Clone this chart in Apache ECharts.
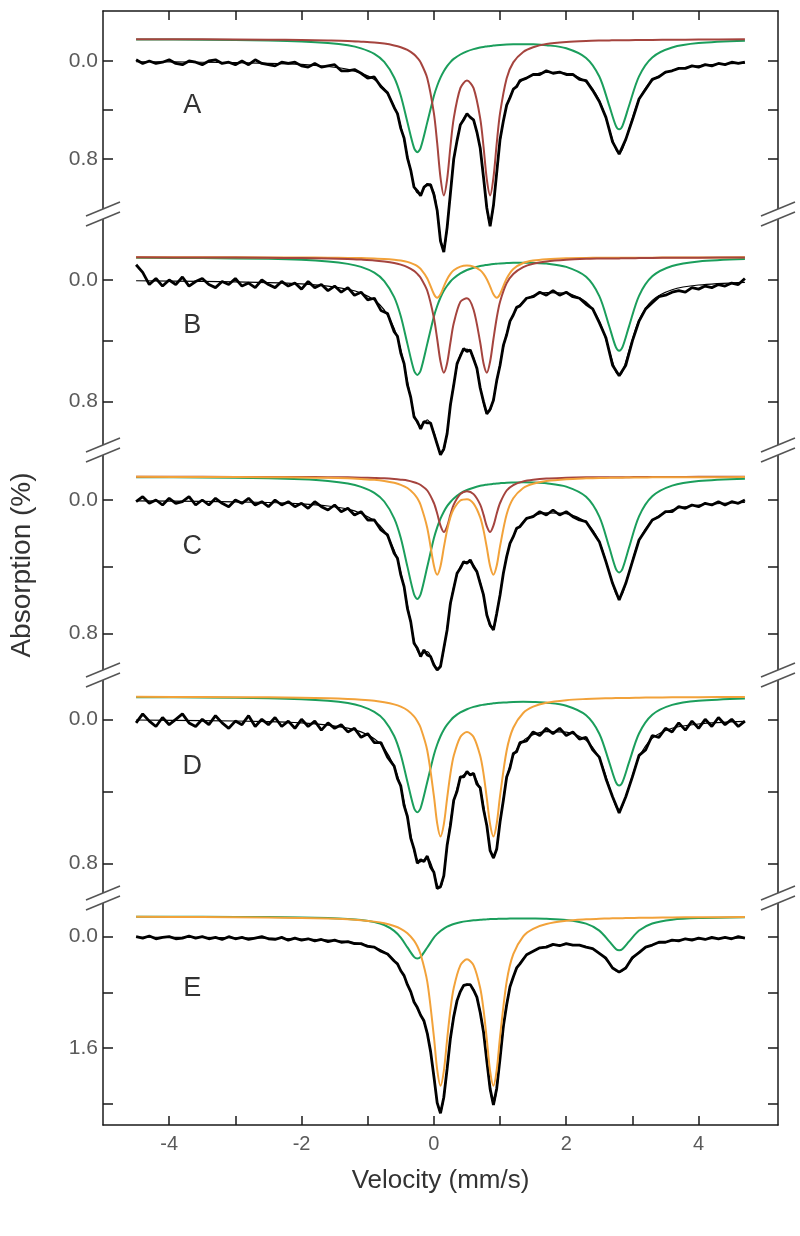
<!DOCTYPE html>
<html><head><meta charset="utf-8">
<script src="https://cdn.jsdelivr.net/npm/echarts@6/dist/echarts.min.js"></script>
<style>html,body{margin:0;padding:0;background:#fff}#chart{width:800px;height:1236px}</style>
</head><body><div id="chart"></div>
<script>
// ---------- DATA ----------
// velocity grid (mm/s) for fitted curves
var velocity = [-4.5,-3.5,-2.5,-2,-1.6,-1.3,-1.1,-0.9,-0.75,-0.6,-0.5,-0.4,-0.3,-0.25,-0.2,-0.1,0,0.05,0.1,0.15,0.2,0.25,0.3,0.4,0.5,0.6,0.7,0.75,0.8,0.85,0.9,0.95,1,1.1,1.2,1.35,1.5,1.7,2,2.3,2.5,2.65,2.75,2.8,2.85,2.95,3.1,3.3,3.6,4,4.7];
// velocity channels of the measured spectra
var dataVelocity = [-4.5,-4.4,-4.3,-4.2,-4.1,-4,-3.9,-3.8,-3.7,-3.6,-3.5,-3.4,-3.3,-3.2,-3.1,-3,-2.9,-2.8,-2.7,-2.6,-2.5,-2.4,-2.3,-2.2,-2.1,-2,-1.9,-1.8,-1.7,-1.6,-1.5,-1.4,-1.3,-1.2,-1.1,-1,-0.9,-0.8,-0.7,
 -0.6,-0.55,-0.5,-0.45,-0.4,-0.35,-0.3,-0.25,-0.2,-0.15,-0.1,-0.05,0,0.05,0.1,0.15,0.2,0.25,0.3,0.35,0.4,0.45,0.5,0.55,0.6,0.65,0.7,0.75,0.8,0.85,0.9,0.95,1,1.05,1.1,1.15,1.2,1.25,1.3,
 1.4,1.5,1.6,1.7,1.8,1.9,2,2.1,2.2,2.3,2.4,2.5,2.6,2.7,2.8,2.9,3,3.1,3.2,3.3,3.4,3.5,3.6,3.7,3.8,3.9,4,4.1,4.2,4.3,4.4,4.5,4.6,4.7];

// Panel A
var dataA = [-0.01,0.02,0.00,0.02,0.01,-0.01,0.02,0.03,0.00,0.01,0.03,0.00,-0.01,0.02,0.01,0.03,0.00,0.03,-0.01,0.02,0.03,0.04,0.01,0.02,0.01,0.04,0.05,0.02,0.05,0.04,0.03,0.08,0.08,0.07,0.10,0.14,0.13,0.21,0.26,
 0.38,0.43,0.55,0.63,0.79,0.89,1.03,1.06,1.10,1.03,1.01,1.01,1.09,1.22,1.47,1.56,1.36,1.08,0.80,0.65,0.52,0.48,0.43,0.46,0.48,0.58,0.71,0.95,1.20,1.35,1.18,0.91,0.64,0.49,0.36,0.30,0.23,0.21,0.16,
 0.14,0.11,0.11,0.08,0.10,0.09,0.11,0.11,0.15,0.16,0.24,0.33,0.46,0.66,0.76,0.64,0.48,0.31,0.23,0.15,0.13,0.09,0.08,0.06,0.06,0.04,0.05,0.03,0.04,0.02,0.03,0.01,0.02,0.01];
var fitA = [0.006,0.010,0.019,0.028,0.045,0.068,0.099,0.151,0.226,0.368,0.532,0.770,1.015,1.078,1.080,1.001,1.071,1.233,1.448,1.541,1.368,1.067,0.811,0.529,0.440,0.485,0.718,0.943,1.207,1.334,1.186,0.902,0.655,0.366,0.235,0.149,0.112,0.093,0.101,0.171,0.320,0.556,0.720,0.748,0.719,0.553,0.314,0.159,0.077,0.039,0.018];
var greenA = [0.004,0.0065,0.013,0.020,0.033,0.052,0.077,0.122,0.188,0.315,0.464,0.680,0.889,0.924,0.889,0.681,0.465,0.382,0.316,0.264,0.222,0.189,0.163,0.127,0.101,0.083,0.070,0.065,0.061,0.057,0.054,0.051,0.049,0.046,0.044,0.043,0.044,0.051,0.076,0.155,0.307,0.544,0.709,0.737,0.709,0.543,0.305,0.151,0.070,0.034,0.015];
var redA = [0.002,0.003,0.006,0.008,0.012,0.016,0.022,0.029,0.038,0.053,0.068,0.090,0.126,0.154,0.191,0.320,0.606,0.851,1.132,1.277,1.146,0.878,0.648,0.402,0.339,0.402,0.648,0.878,1.146,1.277,1.132,0.851,0.606,0.320,0.191,0.106,0.068,0.042,0.025,0.016,0.013,0.012,0.011,0.011,0.010,0.010,0.009,0.008,0.007,0.005,0.003];

// Panel B
var dataB = [-0.10,-0.05,0.03,-0.01,0.04,0.00,0.03,-0.02,0.04,0.01,-0.01,0.03,0.05,0.01,0.03,-0.01,0.04,0.02,0.05,0.00,0.03,0.05,0.01,0.04,0.02,0.06,0.01,0.05,0.03,0.07,0.04,0.08,0.05,0.10,0.08,0.13,0.12,0.20,0.22,
 0.34,0.37,0.48,0.55,0.69,0.77,0.90,0.93,0.98,0.93,0.94,0.94,1.01,1.08,1.15,1.11,1.01,0.82,0.69,0.55,0.50,0.45,0.47,0.46,0.52,0.58,0.71,0.80,0.88,0.85,0.79,0.66,0.56,0.43,0.36,0.27,0.23,0.18,0.17,
 0.12,0.11,0.08,0.10,0.07,0.10,0.08,0.11,0.12,0.16,0.19,0.28,0.38,0.56,0.63,0.56,0.40,0.27,0.19,0.15,0.11,0.10,0.08,0.07,0.08,0.05,0.06,0.04,0.05,0.03,0.04,0.02,0.03,-0.01];
var fitB = [0.005,0.009,0.017,0.025,0.040,0.061,0.086,0.132,0.197,0.318,0.460,0.666,0.882,0.943,0.957,0.92,1.00,1.08,1.14,1.12,1.00,0.83,0.68,0.49,0.455,0.51,0.70,0.81,0.87,0.86,0.78,0.67,0.55,0.35,0.224,0.139,0.102,0.083,0.088,0.145,0.269,0.465,0.603,0.626,0.602,0.463,0.263,0.134,0.064,0.033,0.015];
var greenB = [0.003,0.006,0.011,0.017,0.028,0.044,0.064,0.102,0.157,0.263,0.389,0.570,0.745,0.774,0.745,0.570,0.390,0.321,0.265,0.221,0.188,0.160,0.138,0.106,0.084,0.069,0.058,0.054,0.051,0.048,0.045,0.043,0.041,0.039,0.037,0.036,0.037,0.042,0.064,0.129,0.256,0.454,0.592,0.615,0.592,0.453,0.254,0.126,0.058,0.028,0.012];
var redB = [0.001,0.002,0.004,0.006,0.009,0.012,0.016,0.021,0.028,0.038,0.049,0.065,0.090,0.110,0.135,0.221,0.398,0.538,0.686,0.759,0.697,0.561,0.435,0.294,0.270,0.346,0.561,0.697,0.759,0.686,0.538,0.398,0.293,0.171,0.110,0.065,0.043,0.028,0.017,0.011,0.009,0.008,0.008,0.008,0.007,0.007,0.006,0.005,0.004,0.003,0.002];
var orangeB = [0.0005,0.001,0.0015,0.002,0.003,0.005,0.006,0.009,0.012,0.017,0.022,0.031,0.047,0.059,0.077,0.140,0.242,0.267,0.244,0.193,0.145,0.110,0.086,0.062,0.055,0.062,0.086,0.110,0.145,0.193,0.244,0.267,0.242,0.140,0.077,0.038,0.022,0.013,0.007,0.005,0.004,0.003,0.003,0.003,0.003,0.003,0.003,0.003,0.002,0.002,0.001];

// Panel C
var dataC = [0.01,-0.02,0.02,0.00,0.03,-0.01,0.02,0.01,-0.02,0.03,0.00,0.03,-0.01,0.02,0.04,0.00,0.02,-0.01,0.03,0.01,0.04,0.00,0.03,0.01,0.04,0.02,0.05,0.01,0.04,0.06,0.03,0.07,0.05,0.09,0.07,0.12,0.12,0.18,0.21,
 0.32,0.35,0.45,0.52,0.65,0.73,0.86,0.89,0.94,0.90,0.93,0.94,0.99,1.02,1.00,0.89,0.78,0.62,0.53,0.44,0.41,0.37,0.38,0.36,0.40,0.43,0.50,0.57,0.69,0.75,0.78,0.68,0.57,0.44,0.34,0.26,0.22,0.17,0.16,
 0.11,0.10,0.07,0.09,0.06,0.09,0.07,0.10,0.12,0.13,0.19,0.25,0.37,0.50,0.60,0.50,0.37,0.24,0.18,0.12,0.10,0.07,0.07,0.04,0.05,0.03,0.04,0.02,0.03,0.01,0.03,0.01,0.02,0.00];
var fitC = [0.005,0.008,0.015,0.023,0.036,0.055,0.081,0.124,0.185,0.301,0.435,0.631,0.842,0.904,0.926,0.91,0.98,1.01,0.99,0.90,0.77,0.63,0.52,0.40,0.37,0.39,0.49,0.58,0.68,0.76,0.77,0.69,0.56,0.34,0.215,0.130,0.095,0.077,0.082,0.135,0.251,0.434,0.562,0.584,0.562,0.432,0.245,0.124,0.059,0.030,0.015];
var greenC = [0.003,0.005,0.010,0.016,0.026,0.041,0.061,0.097,0.149,0.250,0.368,0.540,0.706,0.734,0.706,0.541,0.370,0.304,0.252,0.210,0.177,0.152,0.131,0.100,0.080,0.066,0.055,0.051,0.048,0.045,0.043,0.041,0.039,0.036,0.035,0.034,0.035,0.040,0.060,0.121,0.240,0.424,0.553,0.575,0.553,0.424,0.238,0.118,0.054,0.026,0.012];
var redC = [0.001,0.001,0.002,0.002,0.003,0.004,0.006,0.008,0.010,0.014,0.018,0.023,0.033,0.040,0.050,0.083,0.158,0.221,0.294,0.332,0.298,0.228,0.168,0.105,0.088,0.105,0.168,0.228,0.298,0.332,0.294,0.221,0.158,0.083,0.050,0.028,0.018,0.011,0.007,0.004,0.003,0.003,0.003,0.003,0.003,0.003,0.002,0.002,0.002,0.001,0.001];
var orangeC = [0.001,0.002,0.003,0.005,0.007,0.010,0.014,0.019,0.026,0.037,0.049,0.068,0.103,0.130,0.170,0.308,0.533,0.588,0.537,0.426,0.321,0.244,0.194,0.143,0.135,0.162,0.244,0.321,0.426,0.537,0.588,0.533,0.417,0.226,0.130,0.068,0.042,0.026,0.015,0.010,0.008,0.007,0.006,0.006,0.006,0.005,0.005,0.004,0.003,0.003,0.002];

// Panel D
var dataD = [0.02,-0.03,0.01,0.04,-0.01,0.03,0.00,-0.03,0.02,0.04,0.00,0.03,-0.02,0.02,0.05,0.01,0.03,-0.02,0.04,0.00,0.03,-0.01,0.04,0.01,0.05,0.00,0.04,0.01,0.06,0.02,0.05,0.03,0.07,0.05,0.10,0.08,0.13,0.13,0.21,
 0.26,0.33,0.37,0.48,0.54,0.66,0.72,0.80,0.78,0.79,0.76,0.82,0.85,0.94,0.93,0.87,0.70,0.59,0.45,0.40,0.32,0.32,0.29,0.31,0.30,0.36,0.38,0.50,0.59,0.73,0.77,0.72,0.57,0.45,0.32,0.27,0.19,0.18,0.13,
 0.12,0.07,0.09,0.05,0.08,0.05,0.09,0.07,0.11,0.10,0.17,0.21,0.33,0.43,0.52,0.43,0.32,0.20,0.17,0.09,0.10,0.05,0.07,0.02,0.06,0.01,0.05,0.00,0.04,-0.01,0.03,0.00,0.04,0.01];
var fitD = [0.004,0.007,0.013,0.020,0.032,0.049,0.070,0.108,0.161,0.262,0.379,0.549,0.729,0.780,0.792,0.77,0.85,0.92,0.935,0.86,0.71,0.57,0.46,0.33,0.30,0.31,0.39,0.48,0.60,0.72,0.77,0.71,0.57,0.331,0.203,0.120,0.086,0.068,0.071,0.117,0.216,0.374,0.483,0.502,0.482,0.371,0.211,0.106,0.050,0.026,0.012];
var greenD = [0.003,0.005,0.009,0.014,0.023,0.036,0.053,0.085,0.130,0.219,0.323,0.473,0.619,0.643,0.619,0.474,0.324,0.266,0.220,0.184,0.156,0.133,0.114,0.088,0.070,0.057,0.048,0.045,0.042,0.039,0.037,0.035,0.034,0.032,0.030,0.029,0.030,0.034,0.051,0.104,0.206,0.365,0.475,0.494,0.475,0.364,0.205,0.101,0.046,0.023,0.010];
var orangeD = [0.001,0.002,0.004,0.006,0.009,0.013,0.017,0.023,0.031,0.043,0.056,0.076,0.110,0.137,0.173,0.299,0.551,0.704,0.777,0.710,0.565,0.428,0.329,0.224,0.197,0.224,0.329,0.428,0.565,0.710,0.777,0.704,0.551,0.299,0.173,0.091,0.056,0.034,0.020,0.013,0.010,0.009,0.008,0.008,0.007,0.007,0.006,0.005,0.004,0.003,0.002];

// Panel E
var dataE = [0.00,0.02,-0.01,0.03,0.01,0.00,0.03,0.02,-0.01,0.02,0.00,0.03,0.01,0.04,0.00,0.03,0.01,0.04,0.02,0.00,0.03,0.04,0.01,0.05,0.02,0.05,0.03,0.06,0.04,0.07,0.05,0.08,0.07,0.10,0.10,0.14,0.15,0.21,0.25,
 0.35,0.39,0.49,0.56,0.69,0.79,0.94,1.02,1.13,1.21,1.39,1.65,2.01,2.39,2.54,2.31,1.90,1.46,1.15,0.92,0.79,0.70,0.69,0.69,0.77,0.87,1.09,1.37,1.79,2.19,2.42,2.18,1.75,1.29,0.98,0.72,0.58,0.45,0.39,
 0.26,0.21,0.16,0.15,0.11,0.13,0.10,0.12,0.12,0.15,0.17,0.24,0.31,0.45,0.51,0.45,0.30,0.23,0.15,0.12,0.08,0.08,0.05,0.06,0.03,0.05,0.02,0.04,0.01,0.03,0.01,0.03,0.00,0.02];
var fitE = [0.008,0.011,0.021,0.033,0.049,0.074,0.103,0.153,0.218,0.341,0.479,0.683,0.925,1.031,1.122,1.381,2.00,2.38,2.52,2.32,1.88,1.465,1.137,0.786,0.682,0.757,1.075,1.382,1.78,2.20,2.40,2.20,1.74,0.966,0.571,0.312,0.205,0.140,0.111,0.142,0.234,0.384,0.491,0.508,0.489,0.378,0.219,0.116,0.058,0.032,0.017];
var greenE = [0.003,0.004,0.008,0.013,0.021,0.034,0.050,0.080,0.122,0.206,0.303,0.444,0.580,0.603,0.580,0.445,0.304,0.250,0.207,0.173,0.146,0.125,0.108,0.083,0.066,0.054,0.046,0.042,0.040,0.037,0.035,0.034,0.032,0.030,0.029,0.028,0.029,0.033,0.050,0.102,0.202,0.357,0.466,0.484,0.466,0.357,0.200,0.099,0.045,0.022,0.010];
var orangeE = [0.0045,0.007,0.013,0.020,0.028,0.040,0.053,0.073,0.096,0.135,0.176,0.239,0.345,0.428,0.542,0.936,1.727,2.204,2.435,2.225,1.770,1.340,1.029,0.703,0.616,0.703,1.029,1.340,1.770,2.225,2.435,2.204,1.727,0.936,0.542,0.284,0.176,0.107,0.061,0.040,0.032,0.027,0.025,0.024,0.023,0.021,0.019,0.017,0.013,0.010,0.007];

var panelLetters = ['A','B','C','D','E'];
var componentOffsets = [-0.18,-0.15,-0.14,-0.126,-0.29];   // baseline of the component curves (%)
var yTickValues = [[0,0.4,0.8],[0,0.4,0.8],[0,0.4,0.8],[0,0.4,0.8],[0,0.8,1.6,2.4]];
var yLabelValues = [[0,0.8],[0,0.8],[0,0.8],[0,0.8],[0,1.6]];
var xTickValues = [-4,-3,-2,-1,0,1,2,3,4];
var xLabelValues = [-4,-2,0,2,4];
var letterAt = [[-3.65,0.36],[-3.65,0.30],[-3.65,0.28],[-3.65,0.265],[-3.65,0.75]];

// ---------- STYLE / LAYOUT ----------
var GREEN = '#1b9e5c', RED = '#a5443e', ORANGE = '#f2a23a', BLACK = '#000000', AXIS = '#1a1a1a', LABEL = '#5a5a5a';
var FONT = 'Liberation Sans, Arial, Helvetica, sans-serif';
var frame = {left:103, right:778, xMin:-5, xMax:5.2};
// pixel band of each panel: top, bottom, pixel of 0.0, pixels per 1 %
var bands = [
  {top:11,  bottom:214,  zero:61,    k:122.5},
  {top:214, bottom:450,  zero:280,   k:152.1},
  {top:450, bottom:675,  zero:500,   k:166.6},
  {top:675, bottom:898,  zero:719.3, k:180.0},
  {top:898, bottom:1125, zero:936.7, k:69.5}
];
var panelSeries = [
  {data:dataA, fit:fitA, comps:[[greenA,GREEN],[redA,RED]]},
  {data:dataB, fit:fitB, comps:[[greenB,GREEN],[orangeB,ORANGE],[redB,RED]]},
  {data:dataC, fit:fitC, comps:[[greenC,GREEN],[redC,RED],[orangeC,ORANGE]]},
  {data:dataD, fit:fitD, comps:[[greenD,GREEN],[orangeD,ORANGE]]},
  {data:dataE, fit:fitE, comps:[[greenE,GREEN],[orangeE,ORANGE]]}
];

function pairs(xs, ys, off) { return ys.map(function (v, i) { return [xs[i], v + (off || 0)]; }); }
function fmt(v) { return v.toFixed(1); }

var grids = [], xAxes = [], yAxes = [], series = [];
bands.forEach(function (b, i) {
  grids.push({left: frame.left, width: frame.right - frame.left, top: b.top, height: b.bottom - b.top, outerBoundsMode: 'none', containLabel: false});
  var isTop = i === 0, isBottom = i === bands.length - 1;
  xAxes.push({
    type: 'value', gridIndex: i, min: frame.xMin, max: frame.xMax,
    show: isTop || isBottom, position: isTop ? 'top' : 'bottom',
    axisLine: {show: true, onZero: false, lineStyle: {color: AXIS, width: 1.5}},
    axisTick: {show: true, inside: true, length: 9, customValues: xTickValues, lineStyle: {color: AXIS, width: 1.5}},
    axisLabel: {show: isBottom, customValues: xLabelValues, color: LABEL, fontSize: 20, fontFamily: FONT, margin: 9},
    splitLine: {show: false},
    name: isBottom ? 'Velocity (mm/s)' : '', nameLocation: 'middle', nameGap: 43,
    nameTextStyle: {fontSize: 26, color: '#333', fontFamily: FONT}
  });
  var ymin = (b.top - b.zero) / b.k, ymax = (b.bottom - b.zero) / b.k;
  yAxes.push({
    type: 'value', gridIndex: i, min: ymin, max: ymax, inverse: true, position: 'left',
    axisLine: {show: true, onZero: false, lineStyle: {color: AXIS, width: 1.5}},
    axisTick: {show: true, inside: true, length: 10, customValues: yTickValues[i], lineStyle: {color: AXIS, width: 1.5}},
    axisLabel: {show: true, customValues: yLabelValues[i], formatter: fmt, color: LABEL, fontSize: 21, fontFamily: FONT, margin: 5},
    splitLine: {show: false}
  });
  yAxes.push({
    type: 'value', gridIndex: i, min: ymin, max: ymax, inverse: true, position: 'right',
    axisLine: {show: true, onZero: false, lineStyle: {color: AXIS, width: 1.5}},
    axisTick: {show: true, inside: true, length: 10, customValues: yTickValues[i], lineStyle: {color: AXIS, width: 1.5}},
    axisLabel: {show: false},
    splitLine: {show: false}
  });
  var p = panelSeries[i];
  series.push({type: 'line', xAxisIndex: i, yAxisIndex: 2 * i, data: pairs(dataVelocity, p.data), showSymbol: false, clip: false,
    lineStyle: {color: BLACK, width: 2.8}, z: 3, silent: true});
  series.push({type: 'line', xAxisIndex: i, yAxisIndex: 2 * i, data: pairs(velocity, p.fit), showSymbol: false, clip: false, smooth: 0.3,
    lineStyle: {color: BLACK, width: 1.2}, z: 4, silent: true});
  p.comps.forEach(function (c) {
    series.push({type: 'line', xAxisIndex: i, yAxisIndex: 2 * i, data: pairs(velocity, c[0], componentOffsets[i]), showSymbol: false, clip: false, smooth: 0.3,
      lineStyle: {color: c[1], width: 2}, z: 5, silent: true});
  });
});

var chart = echarts.init(document.getElementById('chart'), null, {renderer: 'canvas'});
chart.setOption({
  animation: false, backgroundColor: '#ffffff',
  grid: grids, xAxis: xAxes, yAxis: yAxes, series: series
});

// decorations: axis breaks, panel letters, y-axis title
var graphics = [];
bands.slice(1).forEach(function (b) {
  [frame.left, frame.right].forEach(function (x) {
    var yb = b.top;
    graphics.push({type: 'rect', shape: {x: x - 3, y: yb - 5, width: 6, height: 10}, style: {fill: '#fff'}, z: 100});
    graphics.push({type: 'line', shape: {x1: x - 17, y1: yb - 5 + 7, x2: x + 17, y2: yb - 5 - 7}, style: {stroke: '#555', lineWidth: 1.5}, z: 101});
    graphics.push({type: 'line', shape: {x1: x - 17, y1: yb + 5 + 7, x2: x + 17, y2: yb + 5 - 7}, style: {stroke: '#555', lineWidth: 1.5}, z: 101});
  });
});
panelLetters.forEach(function (t, i) {
  var px = chart.convertToPixel({xAxisIndex: i, yAxisIndex: 2 * i}, letterAt[i]);
  graphics.push({type: 'text', x: px[0], y: px[1], style: {text: t, fontSize: 27, fontFamily: FONT, fill: '#333', align: 'center', verticalAlign: 'middle'}, z: 50});
});
graphics.push({type: 'text', x: 22, y: 565, rotation: Math.PI / 2,
  style: {text: 'Absorption (%)', fontSize: 28, fontFamily: FONT, fill: '#333', align: 'center', verticalAlign: 'middle'}, z: 50});
chart.setOption({graphic: graphics});
</script></body></html>
